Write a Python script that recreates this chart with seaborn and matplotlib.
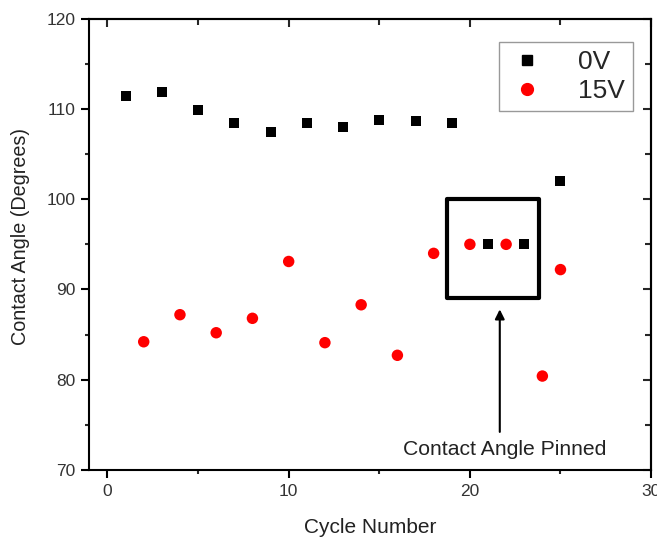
import matplotlib
matplotlib.use("Agg")
import matplotlib.pyplot as plt
import seaborn as sns
import pandas as pd
from matplotlib.lines import Line2D
from matplotlib.patches import Rectangle
from matplotlib.ticker import MultipleLocator

# ---- data ----
cycle_0v = [1, 3, 5, 7, 9, 11, 13, 15, 17, 19, 21, 23, 25]
angle_0v = [111.4, 111.9, 109.9, 108.5, 107.5, 108.4, 108.0, 108.8, 108.7, 108.4, 95.0, 95.0, 102.0]
cycle_15v = [2, 4, 6, 8, 10, 12, 14, 16, 18, 20, 22, 24, 25]
angle_15v = [84.2, 87.2, 85.2, 86.8, 93.1, 84.1, 88.3, 82.7, 94.0, 95.0, 95.0, 80.4, 92.2]
series_labels = ["0V", "15V"]
x_label = "Cycle Number"
y_label = "Contact Angle (Degrees)"
annotation = "Contact Angle Pinned"

df0 = pd.DataFrame({"Cycle": cycle_0v, "Angle": angle_0v})
df15 = pd.DataFrame({"Cycle": cycle_15v, "Angle": angle_15v})

sns.set_style("white")
plt.rcParams["font.family"] = ["Liberation Sans", "DejaVu Sans"]

fig = plt.figure(figsize=(6.57, 5.37), dpi=100)
ax = fig.add_axes([0.136, 0.125, 0.855, 0.840])

sns.scatterplot(data=df0, x="Cycle", y="Angle", marker="s", s=52, color="black",
                edgecolor="none", ax=ax, legend=False, zorder=3)
sns.scatterplot(data=df15, x="Cycle", y="Angle", marker="o", s=68, color="#ff0000",
                edgecolor="none", ax=ax, legend=False, zorder=3)

ax.set_xlim(-1, 30)
ax.set_ylim(70, 120)
ax.xaxis.set_major_locator(MultipleLocator(10))
ax.xaxis.set_minor_locator(MultipleLocator(5))
ax.yaxis.set_major_locator(MultipleLocator(10))
ax.yaxis.set_minor_locator(MultipleLocator(5))

for sp in ax.spines.values():
    sp.set_visible(True)
    sp.set_color("black")
    sp.set_linewidth(1.5)

ax.tick_params(which="major", direction="out", length=6, width=1.5, labelsize=12.5,
               colors="black", labelcolor="#333333", pad=4)
ax.tick_params(which="minor", direction="out", length=3, width=1.5)
ax.tick_params(which="both", bottom=True, left=True, top=False, right=False)

secx = ax.secondary_xaxis("top")
secx.xaxis.set_major_locator(MultipleLocator(10))
secx.xaxis.set_minor_locator(MultipleLocator(5))
secx.tick_params(which="both", direction="in", width=1.5, labeltop=False)
secx.tick_params(which="major", length=6)
secx.tick_params(which="minor", length=4)
secx.spines["top"].set_linewidth(1.5)
secy = ax.secondary_yaxis("right")
secy.yaxis.set_major_locator(MultipleLocator(10))
secy.yaxis.set_minor_locator(MultipleLocator(5))
secy.tick_params(which="both", direction="in", width=1.5, labelright=False)
secy.tick_params(which="major", length=6)
secy.tick_params(which="minor", length=4)
secy.spines["right"].set_linewidth(1.5)

ax.set_xlabel(x_label, fontsize=15, color="#222222", labelpad=14)
ax.set_ylabel(y_label, fontsize=14.2, color="#222222", labelpad=9)
ax.yaxis.set_label_coords(-0.105, 0.518)

# box around pinned points
ax.add_patch(Rectangle((18.75, 89.1), 5.05, 10.95, fill=False, edgecolor="black",
                       linewidth=3, zorder=2, joinstyle="round"))
ax.annotate("", xy=(21.65, 88.1), xytext=(21.65, 73.9),
            arrowprops=dict(arrowstyle="-|>", color="black", lw=1.5, mutation_scale=14))
ax.text(21.9, 72.3, annotation, fontsize=15.2, color="#222222", ha="center", va="center")

handles = [Line2D([], [], marker="s", linestyle="none", color="black", markersize=7.5),
           Line2D([], [], marker="o", linestyle="none", color="#ff0000", markersize=8.5)]
leg = ax.legend(handles, series_labels, loc="upper right", bbox_to_anchor=(0.968, 0.948),
                borderaxespad=0, fontsize=19, frameon=True, fancybox=False,
                edgecolor="#999999", framealpha=1, handletextpad=1.2, borderpad=0.3,
                labelspacing=0.2, handlelength=1.5)
leg.get_frame().set_linewidth(1.0)

fig.savefig("out.png", dpi=100)
